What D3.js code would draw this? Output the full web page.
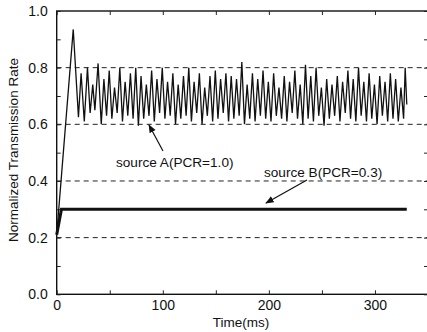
<!DOCTYPE html>
<html><head><meta charset="utf-8">
<script src="https://cdn.jsdelivr.net/npm/d3@7"></script>
<style>body{margin:0;background:#fff}svg{display:block}text{font-family:"Liberation Sans",Arial,sans-serif;fill:#111}</style>
</head><body>
<script>
const timeA = [0,15.6,20.5,23,26,29,31.5,34,36,39,42,
44.5,47,49.5,52,54.5,57,59.5,62,64.5,67,69.5,72,74.5,77,79.5,82,84.5,87,89.5,92,94.5,97,99.5,102,
104.5,107,109.5,112,114.5,117,119.5,122,124.5,127,129.5,132,134.5,137,139.5,142,144.5,147,149.5,152,
154.5,157,159.5,162,164.5,167,169.5,172,174.5,177,179.5,182,184.5,187,189.5,192,194.5,197,199.5,202,
204.5,207,209.5,212,214.5,217,219.5,222,224.5,227,229.5,232,234.5,237,239.5,242,244.5,247,249.5,252,
254.5,257,259.5,262,264.5,267,269.5,272,274.5,277,279.5,282,284.5,287,289.5,292,294.5,297,299.5,302,
304.5,307,309.5,312,314.5,317,319.5,322,324.5,327,328.5,330];
const rateA = [0.21,0.935,0.625,0.78,0.61,0.80,0.64,0.74,0.65,0.815,0.60,
0.76,0.63,0.79,0.62,0.73,0.64,0.80,0.61,0.75,0.63,0.78,0.62,0.80,0.595,0.77,0.62,0.74,0.63,0.79,0.61,0.76,0.64,0.80,0.62,
0.75,0.63,0.78,0.60,0.74,0.62,0.77,0.63,0.80,0.61,0.75,0.64,0.78,0.60,0.73,0.63,0.77,0.61,0.79,0.62,
0.76,0.64,0.78,0.61,0.77,0.62,0.76,0.63,0.82,0.60,0.74,0.62,0.78,0.61,0.76,0.63,0.79,0.62,0.75,0.61,
0.78,0.63,0.73,0.62,0.77,0.61,0.75,0.64,0.79,0.62,0.74,0.60,0.81,0.62,0.77,0.61,0.80,0.63,0.73,0.595,
0.76,0.62,0.74,0.63,0.77,0.61,0.75,0.64,0.79,0.62,0.76,0.61,0.80,0.63,0.75,0.61,0.78,0.62,0.74,0.60,
0.77,0.63,0.75,0.61,0.78,0.62,0.76,0.61,0.73,0.62,0.80,0.67];
const timeB = [0,4.5,330];
const rateB = [0.21,0.30,0.30];
const refLevels = [0.2,0.4,0.6,0.8];
const yTicks = [0,0.2,0.4,0.6,0.8,1.0];
const xTicks = [0,100,200,300];
const labelA = "source A(PCR=1.0)";
const labelB = "source B(PCR=0.3)";

const W=427,H=332;
const FONT="Liberation Sans, Arial, sans-serif";
const svg=d3.select("body").append("svg").attr("width",W).attr("height",H);
const x=d3.scaleLinear().domain([0,350]).range([56.7,428]);
const y=d3.scaleLinear().domain([0,1]).range([294.3,11]);

// frame
svg.append("rect").attr("x",x(0)).attr("y",y(1)).attr("width",x(350)-x(0)).attr("height",y(0)-y(1))
  .attr("fill","none").attr("stroke","#111").attr("stroke-width",1.4);

// dashed reference lines
svg.selectAll(".ref").data(refLevels).join("line")
  .attr("x1",x(0)).attr("x2",x(350)).attr("y1",d=>y(d)).attr("y2",d=>y(d))
  .attr("stroke","#222").attr("stroke-width",1).attr("stroke-dasharray","5,4");

// axes with inward ticks
const yMinor=d3.range(0,1.001,0.1);
const xMinor=d3.range(0,351,50);
svg.append("g").attr("transform",`translate(${x(0)},0)`)
  .call(d3.axisRight(y).tickValues(yMinor).tickSize(4).tickFormat(""))
  .call(g=>g.select(".domain").remove());
svg.append("g").attr("transform",`translate(${x(350)},0)`)
  .call(d3.axisLeft(y).tickValues(yMinor).tickSize(4).tickFormat(""))
  .call(g=>g.select(".domain").remove());
svg.append("g").attr("transform",`translate(0,${y(0)})`)
  .call(d3.axisTop(x).tickValues(xMinor).tickSize(4).tickFormat(""))
  .call(g=>g.select(".domain").remove());
svg.append("g").attr("transform",`translate(0,${y(1)})`)
  .call(d3.axisBottom(x).tickValues(xMinor).tickSize(4).tickFormat(""))
  .call(g=>g.select(".domain").remove());
svg.selectAll(".tick line").attr("stroke","#222");

// tick labels
const yl=svg.append("g").attr("transform",`translate(${x(0)},0)`)
  .call(d3.axisLeft(y).tickValues(yTicks).tickSize(0).tickPadding(9).tickFormat(d3.format(".1f")));
yl.select(".domain").remove();
yl.selectAll("text").attr("font-size",14).attr("font-family",FONT).attr("fill","#111");
const xl=svg.append("g").attr("transform",`translate(0,${y(0)})`)
  .call(d3.axisBottom(x).tickValues(xTicks).tickSize(0).tickPadding(6).tickFormat(d3.format("d")));
xl.select(".domain").remove();
xl.selectAll("text").attr("font-size",14).attr("font-family",FONT).attr("fill","#111");

// titles
svg.append("text").attr("x",241).attr("y",327).attr("text-anchor","middle").attr("font-size",13.5).text("Time(ms)");
svg.append("text").attr("transform","translate(18,150) rotate(-90)").attr("text-anchor","middle").attr("font-size",13.5).text("Normalized Transmission Rate");

// series
const line=d3.line().x(d=>x(d[0])).y(d=>y(d[1]));
svg.append("path").datum(timeA.map((t,i)=>[t,rateA[i]])).attr("d",line)
  .attr("fill","none").attr("stroke","#111").attr("stroke-width",1.3).attr("stroke-linejoin","miter");
svg.append("path").datum(timeB.map((t,i)=>[t,rateB[i]])).attr("d",line)
  .attr("fill","none").attr("stroke","#111").attr("stroke-width",3);

// annotations
svg.append("defs").append("marker").attr("id","ah").attr("viewBox","0 0 10 10").attr("refX",9).attr("refY",5)
  .attr("markerWidth",7).attr("markerHeight",7).attr("orient","auto")
  .append("path").attr("d","M0,1 L10,5 L0,9 Z").attr("fill","#111");
svg.append("text").attr("x",116).attr("y",167).attr("font-size",13.6).text(labelA);
svg.append("line").attr("x1",163).attr("y1",151).attr("x2",149).attr("y2",125)
  .attr("stroke","#111").attr("stroke-width",1.2).attr("marker-end","url(#ah)");
svg.append("text").attr("x",264).attr("y",177).attr("font-size",13.6).text(labelB);
svg.append("line").attr("x1",307).attr("y1",180).attr("x2",266).attr("y2",203)
  .attr("stroke","#111").attr("stroke-width",1.2).attr("marker-end","url(#ah)");
</script>
</body></html>
